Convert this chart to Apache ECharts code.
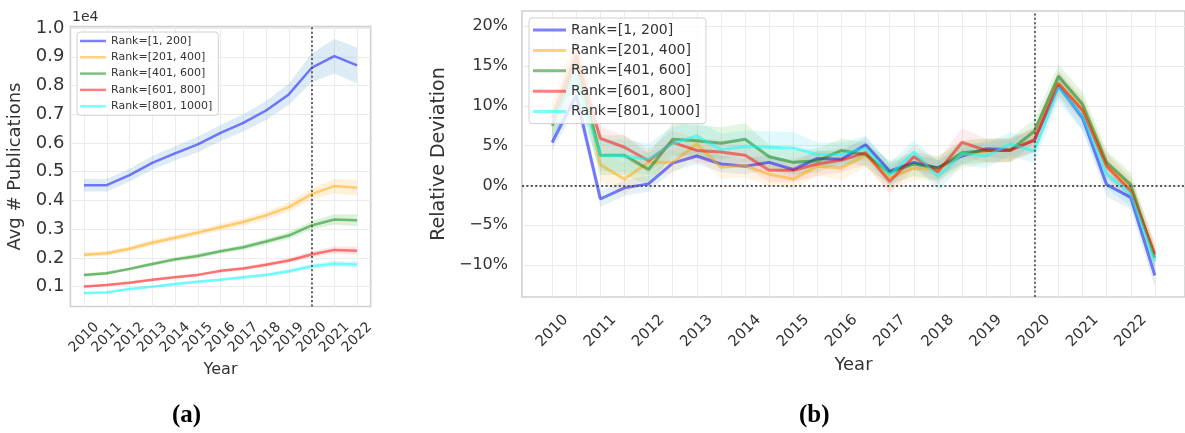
<!DOCTYPE html>
<html>
<head>
<meta charset="utf-8">
<script src="https://cdn.jsdelivr.net/npm/echarts@6/dist/echarts.min.js"></script>
<style>
  html, body { margin: 0; padding: 0; background: #ffffff; }
  #chart { width: 1185px; height: 433px; }
</style>
</head>
<body>
<div id="chart"></div>
<script>
// ---- shared labels ----
const rankNames = ['Rank=[1, 200]', 'Rank=[201, 400]', 'Rank=[401, 600]', 'Rank=[601, 800]', 'Rank=[801, 1000]'];
const years = ['2010', '2011', '2012', '2013', '2014', '2015', '2016', '2017', '2018', '2019', '2020', '2021', '2022'];

// ---- (a) average publications per year, in units of 1e4 ----
const pubTicks = [0.1, 0.2, 0.3, 0.4, 0.5, 0.6, 0.7, 0.8, 0.9, 1.0];
const pubRank1 = [0.453, 0.453, 0.488, 0.531, 0.564, 0.595, 0.635, 0.670, 0.713, 0.769, 0.861, 0.902, 0.870];
const pubRank201 = [0.211, 0.216, 0.232, 0.253, 0.270, 0.288, 0.307, 0.325, 0.348, 0.377, 0.422, 0.450, 0.444];
const pubRank401 = [0.141, 0.147, 0.162, 0.179, 0.195, 0.207, 0.223, 0.237, 0.257, 0.278, 0.313, 0.334, 0.331];
const pubRank601 = [0.101, 0.106, 0.114, 0.124, 0.133, 0.141, 0.155, 0.163, 0.176, 0.191, 0.212, 0.228, 0.225];
const pubRank801 = [0.078, 0.080, 0.092, 0.100, 0.109, 0.117, 0.124, 0.133, 0.141, 0.154, 0.171, 0.180, 0.177];
// half-width of the confidence band around each curve
const pubCi1 = [0.022, 0.022, 0.022, 0.024, 0.025, 0.027, 0.028, 0.030, 0.033, 0.037, 0.050, 0.060, 0.062];
const pubCi201 = [0.008, 0.008, 0.009, 0.010, 0.010, 0.011, 0.012, 0.013, 0.014, 0.016, 0.020, 0.025, 0.028];
const pubCi401 = [0.006, 0.006, 0.006, 0.007, 0.007, 0.008, 0.008, 0.009, 0.010, 0.012, 0.015, 0.018, 0.020];
const pubCi601 = [0.004, 0.004, 0.005, 0.005, 0.005, 0.006, 0.006, 0.006, 0.007, 0.008, 0.010, 0.012, 0.014];
const pubCi801 = [0.004, 0.004, 0.004, 0.004, 0.005, 0.005, 0.005, 0.005, 0.006, 0.007, 0.008, 0.010, 0.011];

// ---- (b) relative deviation (%), two points per year from 2010 ----
const devTicks = [-10, -5, 0, 5, 10, 15, 20];
const devRank1 = [5.4, 11.3, -1.7, -0.3, 0.2, 2.8, 3.7, 2.7, 2.4, 2.9, 2.0, 3.4, 3.3, 5.1, 1.8, 2.9, 2.2, 3.7, 4.6, 4.5, 5.7, 12.5, 8.5, 0.1, -1.5, -11.3];
const devRank201 = [9.0, 16.9, 2.6, 0.8, 2.9, 2.9, 5.2, 2.3, 2.5, 1.4, 0.8, 2.4, 2.2, 3.8, 0.9, 2.2, 2.0, 3.9, 4.3, 4.5, 5.8, 12.9, 9.6, 2.6, -0.3, -8.8];
const devRank401 = [7.5, 15.5, 3.8, 3.8, 2.0, 5.8, 5.6, 5.3, 5.8, 3.6, 2.9, 3.1, 4.4, 3.9, 1.6, 2.7, 2.2, 4.1, 4.4, 4.4, 6.8, 13.7, 10.2, 2.9, 0.1, -9.1];
const devRank601 = [8.5, 16.3, 5.9, 4.8, 3.1, 5.4, 4.4, 4.2, 3.8, 1.9, 1.9, 2.7, 3.2, 4.1, 0.5, 3.6, 1.7, 5.4, 4.4, 4.4, 5.7, 12.8, 9.4, 2.4, -0.7, -8.6];
const devRank801 = [8.0, 13.5, 3.8, 3.7, 3.3, 5.3, 6.2, 4.5, 4.9, 4.8, 4.7, 3.9, 3.9, 4.7, 1.3, 4.2, 1.1, 4.0, 3.7, 5.2, 4.3, 12.3, 8.7, 1.4, -1.1, -9.5];
const devCi1 = [1.0, 1.5, 1.0, 1.0, 1.0, 1.0, 1.0, 1.0, 1.0, 1.0, 1.0, 1.0, 1.0, 1.0, 1.0, 1.0, 1.0, 1.0, 1.0, 1.2, 1.5, 1.5, 1.5, 1.5, 1.5, 1.5];
const devCi201 = [2.0, 2.5, 2.0, 2.0, 1.5, 1.5, 1.5, 1.5, 1.5, 1.5, 1.2, 1.2, 1.5, 1.5, 1.5, 1.5, 1.5, 1.8, 1.5, 1.5, 1.5, 1.5, 1.5, 1.5, 1.5, 1.5];
const devCi401 = [2.0, 3.0, 2.5, 2.5, 2.0, 2.0, 2.0, 2.0, 2.0, 1.5, 1.5, 1.5, 1.5, 1.5, 1.5, 1.5, 1.5, 1.5, 1.5, 1.5, 1.5, 1.5, 1.5, 1.5, 1.5, 1.5];
const devCi601 = [2.0, 3.0, 1.5, 1.5, 1.5, 1.5, 1.5, 1.5, 1.5, 1.5, 1.5, 1.5, 1.5, 1.5, 1.5, 1.5, 1.5, 1.8, 1.5, 1.5, 1.5, 1.5, 1.5, 1.5, 1.5, 1.5];
const devCi801 = [2.0, 2.5, 2.0, 2.0, 2.0, 2.0, 2.0, 2.0, 2.0, 2.0, 2.0, 1.5, 1.5, 1.5, 1.5, 1.5, 1.8, 1.5, 1.5, 1.5, 1.5, 1.8, 1.8, 1.8, 1.5, 1.5];

// ---- styling ----
const lineColors = ['rgba(0,0,255,0.5)', 'rgba(255,165,0,0.5)', 'rgba(0,128,0,0.5)', 'rgba(255,0,0,0.5)', 'rgba(0,255,255,0.5)'];
const pubBandColors = ['rgba(110,170,210,0.24)', 'rgba(255,185,80,0.22)', 'rgba(70,190,70,0.2)', 'rgba(255,110,110,0.2)', 'rgba(70,220,230,0.2)'];
const devBandColors = ['rgba(110,170,210,0.18)', 'rgba(255,185,80,0.15)', 'rgba(70,190,70,0.15)', 'rgba(255,110,110,0.12)', 'rgba(70,220,230,0.16)'];
const FONT = 'DejaVu Sans';
const TXT = '#333333';
const GRIDLINE = '#ebebeb';

const pubSeries = [pubRank1, pubRank201, pubRank401, pubRank601, pubRank801];
const pubCis = [pubCi1, pubCi201, pubCi401, pubCi601, pubCi801];
const devSeries = [devRank1, devRank201, devRank401, devRank601, devRank801];
const devCis = [devCi1, devCi201, devCi401, devCi601, devCi801];

// Shaded confidence band drawn as one polygon through the axis scales
function bandSeries(axisIdx, vals, ci, fill) {
  return {
    type: 'custom', xAxisIndex: axisIdx, yAxisIndex: axisIdx, silent: true, z: 1, clip: true,
    data: vals.map((v, i) => [i, v - ci[i], v + ci[i]]),
    encode: { x: 0, y: [1, 2] },
    renderItem: function (params, api) {
      if (params.dataIndex !== 0) return;
      const upper = vals.map((v, i) => api.coord([i, v + ci[i]]));
      const lower = vals.map((v, i) => api.coord([i, v - ci[i]])).reverse();
      return {
        type: 'polygon', silent: true,
        shape: { points: upper.concat(lower) },
        style: { fill: fill, stroke: null }
      };
    }
  };
}

function mainLine(axisIdx, vals, k, width) {
  return {
    type: 'line', name: rankNames[k], xAxisIndex: axisIdx, yAxisIndex: axisIdx,
    data: vals.map((v, i) => [i, v]), symbol: 'none', showSymbol: false, z: 3,
    lineStyle: { color: lineColors[k], width: width },
    itemStyle: { color: lineColors[k] }
  };
}

const dotted = { type: [2, 2.4], color: '#555555', width: 1.8 };

const series = [];
pubSeries.forEach((vals, k) => series.push(bandSeries(0, vals, pubCis[k], pubBandColors[k])));
devSeries.forEach((vals, k) => series.push(bandSeries(1, vals, devCis[k], devBandColors[k])));
pubSeries.forEach((vals, k) => series.push(mainLine(0, vals, k, 2.5)));
devSeries.forEach((vals, k) => series.push(mainLine(1, vals, k, 3)));

// reference lines at 2020 (and 0% on the deviation panel)
series.push({
  type: 'line', xAxisIndex: 0, yAxisIndex: 0, data: [], silent: true,
  markLine: { silent: true, symbol: 'none', label: { show: false }, lineStyle: dotted, animation: false,
    data: [{ xAxis: years.indexOf('2020') }] }
});
series.push({
  type: 'line', xAxisIndex: 1, yAxisIndex: 1, data: [], silent: true,
  markLine: { silent: true, symbol: 'none', label: { show: false }, lineStyle: dotted, animation: false,
    data: [{ xAxis: years.indexOf('2020') * 2 }, { yAxis: 0 }] }
});

const yearIdx = years.map((y, i) => i);
const halfYearIdx = devRank1.map((v, i) => i);
const devLabelIdx = years.map((y, i) => i * 2);

const option = {
  animation: false,
  backgroundColor: '#ffffff',
  textStyle: { fontFamily: FONT },
  grid: [
    { left: 70.4, top: 26.6, width: 300.3, height: 279.9, show: true, borderColor: '#d0d0d0', borderWidth: 1.6, backgroundColor: 'transparent' },
    { left: 522, top: 11, width: 675, height: 286, show: true, borderColor: '#d0d0d0', borderWidth: 1.6, backgroundColor: 'transparent' }
  ],
  xAxis: [
    {
      type: 'value', gridIndex: 0, min: -0.6, max: 12.6,
      name: 'Year', nameLocation: 'middle', nameGap: 51,
      nameTextStyle: { fontSize: 16, color: TXT, fontFamily: FONT },
      axisLine: { show: false },
      axisTick: { show: false, customValues: yearIdx },
      splitLine: { show: true, lineStyle: { color: GRIDLINE, width: 1 } },
      axisLabel: {
        customValues: yearIdx, rotate: 45, align: 'center', verticalAlign: 'middle', margin: 31,
        fontSize: 14, color: TXT, fontFamily: FONT,
        formatter: v => years[Math.round(v)]
      }
    },
    {
      type: 'value', gridIndex: 1, min: -1.25, max: 26.25,
      name: 'Year', nameLocation: 'middle', nameGap: 58,
      nameTextStyle: { fontSize: 18, color: TXT, fontFamily: FONT },
      axisLine: { show: false },
      axisTick: { show: false, customValues: halfYearIdx },
      splitLine: { show: true, lineStyle: { color: GRIDLINE, width: 1 } },
      axisLabel: {
        customValues: devLabelIdx, rotate: 45, align: 'center', verticalAlign: 'middle', margin: 34,
        fontSize: 15, color: TXT, fontFamily: FONT,
        formatter: v => years[Math.round(v / 2)]
      }
    }
  ],
  yAxis: [
    {
      type: 'value', gridIndex: 0, min: 0.031, max: 1.005,
      name: 'Avg # Publications', nameLocation: 'middle', nameGap: 46, nameRotate: 90,
      nameTextStyle: { fontSize: 18, color: TXT, fontFamily: FONT },
      axisLine: { show: false },
      axisTick: { show: false, customValues: pubTicks },
      splitLine: { show: true, lineStyle: { color: GRIDLINE, width: 1 } },
      axisLabel: { customValues: pubTicks, margin: 6, fontSize: 18, color: TXT, fontFamily: FONT, formatter: v => v.toFixed(1) }
    },
    {
      type: 'value', gridIndex: 1, min: -14.0, max: 21.9,
      name: 'Relative Deviation', nameLocation: 'middle', nameGap: 71, nameRotate: 90,
      nameTextStyle: { fontSize: 19, color: TXT, fontFamily: FONT },
      axisLine: { show: false },
      axisTick: { show: false, customValues: devTicks },
      splitLine: { show: true, lineStyle: { color: GRIDLINE, width: 1 } },
      axisLabel: { customValues: devTicks, margin: 14, fontSize: 16, color: TXT, fontFamily: FONT,
        formatter: v => (v < 0 ? '\u2212' + Math.abs(v) : String(v)) + '%' }
    }
  ],
  legend: [
    {
      data: rankNames, orient: 'vertical', left: 77, top: 32, icon: 'rect',
      padding: [3, 6, 3, 3], itemWidth: 26, itemHeight: 2.5, itemGap: 4.3,
      backgroundColor: 'rgba(255,255,255,0.85)', borderColor: '#d0d0d0', borderWidth: 1, borderRadius: 3,
      textStyle: { fontSize: 11, color: TXT, fontFamily: FONT, lineHeight: 12 },
      selectedMode: false
    },
    {
      data: rankNames, orient: 'vertical', left: 529, top: 18, icon: 'rect',
      padding: [4, 6, 4, 4], itemWidth: 33, itemHeight: 3, itemGap: 4.4,
      backgroundColor: 'rgba(255,255,255,0.8)', borderColor: '#d0d0d0', borderWidth: 1, borderRadius: 3,
      textStyle: { fontSize: 14, color: TXT, fontFamily: FONT, lineHeight: 16 },
      selectedMode: false
    }
  ],
  graphic: [
    { type: 'text', left: 72, top: 10, style: { text: '1e4', fontSize: 14, fill: TXT, fontFamily: FONT } },
    { type: 'text', left: 172, top: 403, style: { text: '(a)', fontSize: 25, fontWeight: 'bold', fill: '#000', fontFamily: 'Liberation Serif' } },
    { type: 'text', left: 799, top: 403, style: { text: '(b)', fontSize: 25, fontWeight: 'bold', fill: '#000', fontFamily: 'Liberation Serif' } }
  ],
  series: series
};

const chart = echarts.init(document.getElementById('chart'), null, { renderer: 'canvas' });
chart.setOption(option);
</script>
</body>
</html>
